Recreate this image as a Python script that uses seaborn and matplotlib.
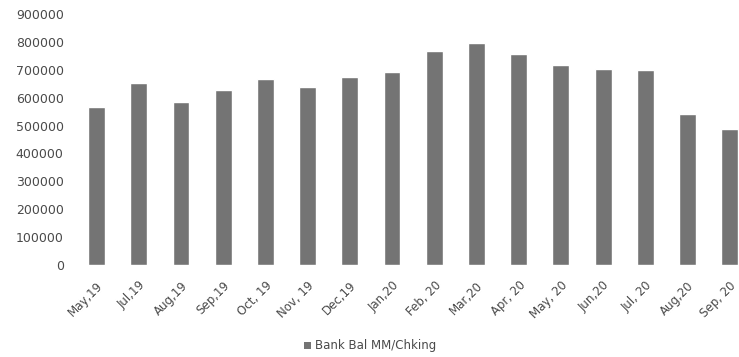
import matplotlib
matplotlib.use("Agg")
import matplotlib.pyplot as plt
import seaborn as sns
import pandas as pd
from matplotlib.patches import Patch

months = ["May,19", "Jul,19", "Aug,19", "Sep,19", "Oct, 19", "Nov, 19", "Dec,19",
          "Jan,20", "Feb, 20", "Mar,20", "Apr, 20", "May, 20", "Jun,20", "Jul, 20",
          "Aug,20", "Sep, 20"]
balances = [565000, 654000, 583000, 627000, 668000, 637000, 673000,
            692000, 768000, 797000, 757000, 716000, 702000, 699000,
            541000, 489000]
y_ticks = [0, 100000, 200000, 300000, 400000, 500000, 600000, 700000, 800000, 900000]
series_name = "Bank Bal MM/Chking"

df = pd.DataFrame({"month": months, "balance": balances})

sns.set_style("white")
plt.rcParams['font.family'] = ['DejaVu Sans']

fig = plt.figure(figsize=(7.39, 3.57), dpi=100)
left_px = 75.5
ax = fig.add_axes([left_px/739, 1-265/357, 1-left_px/739, (265-14)/357])

bar_color = "#747474"
text_color = "#4a4a4a"
sns.barplot(data=df, x="month", y="balance", color=bar_color, saturation=1,
            width=0.40, ax=ax)

ax.set_xlim(-0.5, 15.22)
ax.set_ylim(0, 900000)
ax.set_yticks(y_ticks)
ax.set_yticklabels([str(v) for v in y_ticks], fontsize=9, color=text_color)
ax.set_xticks(range(len(months)))
ax.set_xticklabels(months, rotation=45, ha="right", rotation_mode="anchor",
                   fontsize=8.5, color=text_color)
ax.tick_params(axis="y", length=0, pad=8.5)
ax.tick_params(axis="x", length=0, pad=10)
ax.set_xlabel("")
ax.set_ylabel("")
for s in ax.spines.values():
    s.set_visible(False)

fig.legend(handles=[Patch(facecolor=bar_color, edgecolor="none")],
           labels=[series_name], loc="center", bbox_to_anchor=(370/739, 1-346/357),
           frameon=False, fontsize=8.5, handlelength=0.6, handleheight=0.6,
           handletextpad=0.3, labelcolor=text_color)

fig.savefig("out.png", dpi=100)
